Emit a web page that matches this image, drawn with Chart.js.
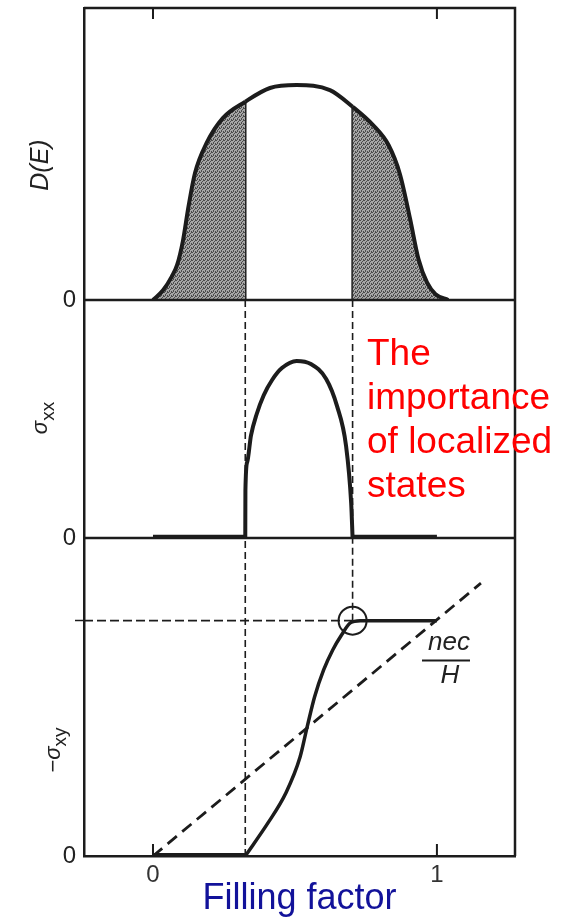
<!DOCTYPE html>
<html>
<head>
<meta charset="utf-8">
<script src="https://cdn.jsdelivr.net/npm/chart.js@4.4.1/dist/chart.umd.min.js"></script>
<style>
  html, body { margin: 0; padding: 0; background: #fff; }
  canvas { display: block; }
</style>
</head>
<body>
<canvas id="c" width="567" height="921"></canvas>
<script>
// ---- data ----
const xTicks = [0, 1];
const edgeL = 0.325, edgeR = 0.703;     // mobility edges
const plateau = 0.74;                   // quantized sigma_xy step

// density of states D(E)
const dosX = [0, 0.036, 0.066, 0.085, 0.105, 0.125, 0.148, 0.189, 0.246, 0.325, 0.412, 0.506, 0.623, 0.703, 0.775, 0.83, 0.87, 0.905, 0.935, 0.965, 0.995, 1.04];
const dosY = [0, 0.034, 0.08, 0.12, 0.2, 0.32, 0.435, 0.538, 0.623, 0.679, 0.726, 0.736, 0.719, 0.662, 0.599, 0.53, 0.43, 0.28, 0.14, 0.06, 0.02, 0];

// sigma_xx
const sxxX = [0.325, 0.3255, 0.332, 0.345, 0.365, 0.39, 0.42, 0.454, 0.506, 0.556, 0.61, 0.648, 0.68, 0.698, 0.703];
const sxxY = [0, 0.2, 0.32, 0.43, 0.52, 0.6, 0.665, 0.714, 0.744, 0.731, 0.668, 0.555, 0.387, 0.147, 0];
const sxxFlatL = [0, 0.325], sxxFlatR = [0.703, 1.0], sxxFlatY = 0.006;

// -sigma_xy
const sxyX = [0.325, 0.405, 0.468, 0.518, 0.543, 0.569, 0.601, 0.633, 0.664, 0.695, 0.73, 1.0];
const sxyY = [0, 0.104, 0.198, 0.311, 0.406, 0.50, 0.585, 0.648, 0.695, 0.733, 0.74, 0.74];
const sxyFlat = [0, 0.325], sxyFlatY = 0.004;

// classical nec/H line
const necX = [0, 1.155];
const necY = [0, 0.858];

const INK = '#1c1c1c';
const FONT = '"Liberation Sans", Arial, Helvetica, sans-serif';

const ctx = document.getElementById('c').getContext('2d');

// stipple used for the localized-state tails
function makeShade() {
  const c = document.createElement('canvas');
  c.width = 4; c.height = 4;
  const g = c.getContext('2d');
  g.fillStyle = '#a6a6a6';
  g.fillRect(0, 0, 4, 4);
  g.fillStyle = '#4c4c4c';
  [[0, 0], [2, 1], [1, 2], [3, 3], [3, 0], [1, 3]].forEach(p => g.fillRect(p[0], p[1], 1, 1));
  return ctx.createPattern(c, 'repeat');
}
const shade = makeShade();

const pts = (xs, ys) => xs.map((x, i) => ({ x: x, y: ys[i] }));

function line(data, axis, opts) {
  return Object.assign({
    data: data, yAxisID: axis, showLine: true, pointRadius: 0,
    borderColor: INK, borderWidth: 2, fill: false, tension: 0
  }, opts || {});
}

const dashV = [7, 4];

const datasets = [
  // top panel
  line(pts(dosX, dosY), 'yTop', {
    borderWidth: 4, cubicInterpolationMode: 'monotone',
    fill: 'origin', backgroundColor: shade,
    segment: {
      backgroundColor: c => (c.p0.parsed.x >= edgeL - 1e-9 && c.p1.parsed.x <= edgeR + 1e-9) ? 'rgba(0,0,0,0)' : shade
    }
  }),
  line([{ x: edgeL, y: 0 }, { x: edgeL, y: dosY[dosX.indexOf(edgeL)] }], 'yTop', { borderWidth: 2.5 }),
  line([{ x: edgeR, y: 0 }, { x: edgeR, y: dosY[dosX.indexOf(edgeR)] }], 'yTop', { borderWidth: 2.5 }),

  // middle panel
  line(pts(sxxX, sxxY), 'yMid', { borderWidth: 4, cubicInterpolationMode: 'monotone' }),
  line(pts(sxxFlatL, [sxxFlatY, sxxFlatY]), 'yMid', { borderWidth: 3.5 }),
  line(pts(sxxFlatR, [sxxFlatY, sxxFlatY]), 'yMid', { borderWidth: 3.5 }),
  line([{ x: edgeL, y: 0 }, { x: edgeL, y: 1 }], 'yMid', { borderWidth: 1.6, borderDash: dashV }),
  line([{ x: edgeR, y: 0 }, { x: edgeR, y: 1 }], 'yMid', { borderWidth: 1.6, borderDash: dashV }),

  // bottom panel
  line(pts(sxyX, sxyY), 'yBot', { borderWidth: 3.5, cubicInterpolationMode: 'monotone' }),
  line(pts(sxyFlat, [sxyFlatY, sxyFlatY]), 'yBot', { borderWidth: 3.5 }),
  line(pts(necX, necY), 'yBot', { borderWidth: 2.8, borderDash: [12, 7] }),
  line([{ x: -0.243, y: plateau }, { x: edgeR, y: plateau }], 'yBot', { borderWidth: 1.8, borderDash: [9, 4] }),
  line([{ x: edgeL, y: 0 }, { x: edgeL, y: 1 }], 'yBot', { borderWidth: 1.6, borderDash: dashV }),
  line([{ x: edgeR, y: plateau }, { x: edgeR, y: 1 }], 'yBot', { borderWidth: 1.6, borderDash: dashV }),
  {
    data: [{ x: edgeR, y: plateau }], yAxisID: 'yBot', showLine: false,
    pointRadius: 14, pointBorderWidth: 2, pointBorderColor: INK,
    pointBackgroundColor: 'rgba(0,0,0,0)', pointStyle: 'circle'
  }
];

function noPad(s) {
  s.paddingTop = 0; s.paddingBottom = 0; s.paddingLeft = 0; s.paddingRight = 0;
}

function panelAxis(weight, ticks, withMarks) {
  return {
    type: 'linear', position: 'left', stack: 'panels', stackWeight: weight,
    min: 0, max: 1,
    afterFit: s => { s.width = 84; noPad(s); },
    afterBuildTicks: s => { s.ticks = ticks.map(v => ({ value: v })); },
    border: { display: true, color: INK, width: 2.5 },
    grid: withMarks ? {
      display: true, drawOnChartArea: false, drawTicks: true, tickLength: 9,
      color: 'rgba(0,0,0,0)', tickWidth: 1.5,
      tickColor: c => (c.tick && c.tick.value === 0) ? 'rgba(0,0,0,0)' : INK
    } : { display: false, drawTicks: false, tickLength: 0 },
    ticks: {
      padding: withMarks ? -1 : 8,
      color: '#222', font: { family: FONT, size: 24 },
      callback: v => v === 0 ? '0' : ''
    }
  };
}

// axis titles, frame, labels
function rotLabel(c, cx, cy, parts) {
  c.save();
  c.translate(cx, cy);
  c.rotate(-Math.PI / 2);
  let total = 0;
  parts.forEach(p => { c.font = p.font; p.w = c.measureText(p.t).width; total += p.w; });
  let x = -total / 2;
  c.textAlign = 'left';
  c.textBaseline = 'alphabetic';
  parts.forEach(p => { c.font = p.font; c.fillText(p.t, x, p.dy); x += p.w; });
  c.restore();
}

const decor = {
  id: 'decor',
  afterDraw(chart) {
    const c = chart.ctx, a = chart.chartArea, s = chart.scales;
    c.save();
    c.strokeStyle = INK;
    c.lineWidth = 2.5;
    c.beginPath();
    c.moveTo(a.left, a.top);
    c.lineTo(a.right, a.top);
    c.lineTo(a.right, a.bottom);
    [s.yTop, s.yMid].forEach(y => {
      const py = y.getPixelForValue(0);
      c.moveTo(a.left, py);
      c.lineTo(a.right, py);
    });
    c.stroke();

    // inward tick marks at 0 and 1
    c.lineWidth = 2;
    c.beginPath();
    xTicks.forEach(v => {
      const px = s.x.getPixelForValue(v);
      c.moveTo(px, a.top); c.lineTo(px, a.top + 11);
      c.moveTo(px, a.bottom); c.lineTo(px, a.bottom - 12);
    });
    c.stroke();

    c.fillStyle = '#222';
    rotLabel(c, 48, 165, [{ t: 'D(E)', font: 'italic 25px ' + FONT, dy: 0 }]);
    rotLabel(c, 47, 418, [
      { t: 'σ', font: 'italic 22px ' + FONT, dy: 0 },
      { t: 'xx', font: '19px ' + FONT, dy: 6.5 }
    ]);
    rotLabel(c, 60, 750, [
      { t: '−', font: '22px ' + FONT, dy: 0 },
      { t: 'σ', font: 'italic 22px ' + FONT, dy: 0 },
      { t: 'xy', font: '19px ' + FONT, dy: 6 }
    ]);

    // nec/H
    c.textAlign = 'center';
    c.textBaseline = 'alphabetic';
    c.font = 'italic 26px ' + FONT;
    c.fillText('nec', 449, 650);
    c.fillText('H', 450, 683);
    c.lineWidth = 2;
    c.beginPath();
    c.moveTo(422, 660.5); c.lineTo(470, 660.5);
    c.stroke();

    // annotation
    c.fillStyle = '#ff0000';
    c.textAlign = 'left';
    c.font = '37px ' + FONT;
    ['The', 'importance', 'of localized', 'states'].forEach((t, i) => {
      c.fillText(t, 367, 365 + i * 44);
    });
    c.restore();
  }
};

new Chart(ctx, {
  type: 'scatter',
  data: { datasets: datasets },
  options: {
    responsive: false,
    animation: false,
    events: [],
    layout: { autoPadding: false, padding: { top: 8, right: 52, left: 0, bottom: 0 } },
    plugins: { legend: { display: false }, tooltip: { enabled: false } },
    scales: {
      x: {
        type: 'linear', min: -0.243, max: 1.275,
        afterFit: s => { s.height = 65; noPad(s); },
        afterBuildTicks: s => { s.ticks = xTicks.map(v => ({ value: v })); },
        border: { display: true, color: INK, width: 2.5 },
        grid: { display: false, drawTicks: false, tickLength: 0 },
        ticks: { padding: 5, color: '#333', font: { family: FONT, size: 24 } },
        title: {
          display: true, text: 'Filling factor', color: '#12129a',
          font: { family: FONT, size: 36, lineHeight: 1.2 }, padding: { top: 0, bottom: 0 }
        }
      },
      yBot: panelAxis(318, [0, plateau], true),
      yMid: panelAxis(238, [0], false),
      yTop: panelAxis(292, [0], false)
    }
  },
  plugins: [decor]
});
</script>
</body>
</html>
